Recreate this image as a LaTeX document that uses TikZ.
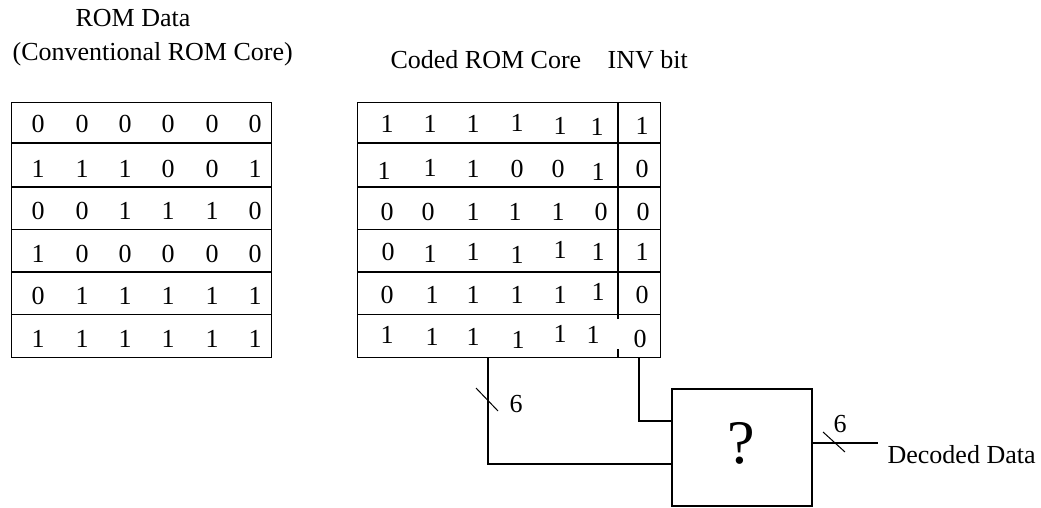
\documentclass[tikz,border=0pt]{standalone}
\usepackage{fontspec}
\setmainfont{Liberation Serif}
\begin{document}
\begin{tikzpicture}[x=1pt,y=-1pt,line width=1.2pt,
  txt/.style={font=\fontsize{26}{30}\selectfont,inner sep=0pt,anchor=base},
  ltxt/.style={txt,anchor=base west},
  dig/.style={txt},
  tbl/.style={draw,inner sep=0pt,anchor=north west},
  wire/.style={draw,line width=1.2pt},
  tick/.style={line width=1pt}]
\useasboundingbox (0,0) rectangle (1041,508);
% titles
\node[txt] (t1) at (133,27) {ROM Data};
\node[ltxt] (t2) at (12,61) {(Conventional ROM Core)};
\node[ltxt] (t3) at (390,69) {Coded ROM Core};
\node[ltxt] (t4) at (607,69) {INV bit};
% conventional table
\node[tbl,minimum width=260pt,minimum height=255pt] (conv) at (11,102) {};
\foreach \yy in {143,187,229.5,272,314.5}
  \draw (11,\yy) -- (271,\yy);
\foreach \row [count=\r] in {{0,0,0,0,0,0},{1,1,1,0,0,1},{0,0,1,1,1,0},{1,0,0,0,0,0},{0,1,1,1,1,1},{1,1,1,1,1,1}}{
  \pgfmathsetmacro{\by}{{133,177,219.5,262,304.5,347}[\r-1]}
  \foreach \v [count=\c] in \row {
    \pgfmathsetmacro{\bx}{{38,82,125,168,212,255}[\c-1]}
    \node[dig] (l\r-\c) at (\bx,\by) {\v};
  }
}
% coded table
\node[tbl,minimum width=303pt,minimum height=255pt] (coded) at (357,102) {};
\node[inner sep=0pt,minimum width=42pt,minimum height=255pt,anchor=north west] (inv) at (618,102) {};
\foreach \yy in {143,187,229.5,272,314.5}
  \draw (357,\yy) -- (660,\yy);
\draw (618,102) -- (618,319);
\draw (618,349) -- (618,357);
\foreach \v/\x/\y [count=\k] in {
  1/387/133,1/430/133,1/473/133,1/517/131.5,1/560/135,1/597/135.5,1/642/135,
  1/384/179,1/430/176,1/473/177,0/517/177,0/558/177,1/598/180,0/642/177,
  0/387/220,0/428/220,1/473/220,1/515/220,1/558/220,0/601/220,0/643/220,
  0/388/260,1/430/262,1/473/260,1/517/263,1/560/258,1/598/260,1/642/260,
  0/387/303,1/432/303,1/473/303,1/517/303,1/560/303,1/598/300,0/642/303,
  1/387/343,1/432/345,1/473/345,1/518/348,1/560/342,1/593/343,0/640/347}
  \node[dig] (c\k) at (\x,\y) {\v};
% decoder box
\node[draw,inner sep=0pt,minimum width=140pt,minimum height=117pt] (dec) at (742,447.5) {};
\node[inner sep=0pt,anchor=base,font=\fontsize{62}{62}\selectfont] (q) at (741,463) {?};
% wires
\coordinate (dataout) at (488,357);
\coordinate (invout) at (639,357);
\coordinate (decin1) at (672,464);
\coordinate (decin2) at (672,421);
\coordinate (decout) at (812,443);
\coordinate (outend) at (878,443);
\draw[wire] (dataout) |- (decin1);
\draw[wire] (invout) |- (decin2);
\draw[wire] (decout) -- (outend);
\draw[tick] (476,388) -- (498,411);
\draw[tick] (823,432) -- (845,452);
\node[txt] (n1) at (516,412) {6};
\node[txt] (n2) at (840,432) {6};
\node[ltxt] (dd) at (887,463) {Decoded Data};
\end{tikzpicture}
\end{document}
